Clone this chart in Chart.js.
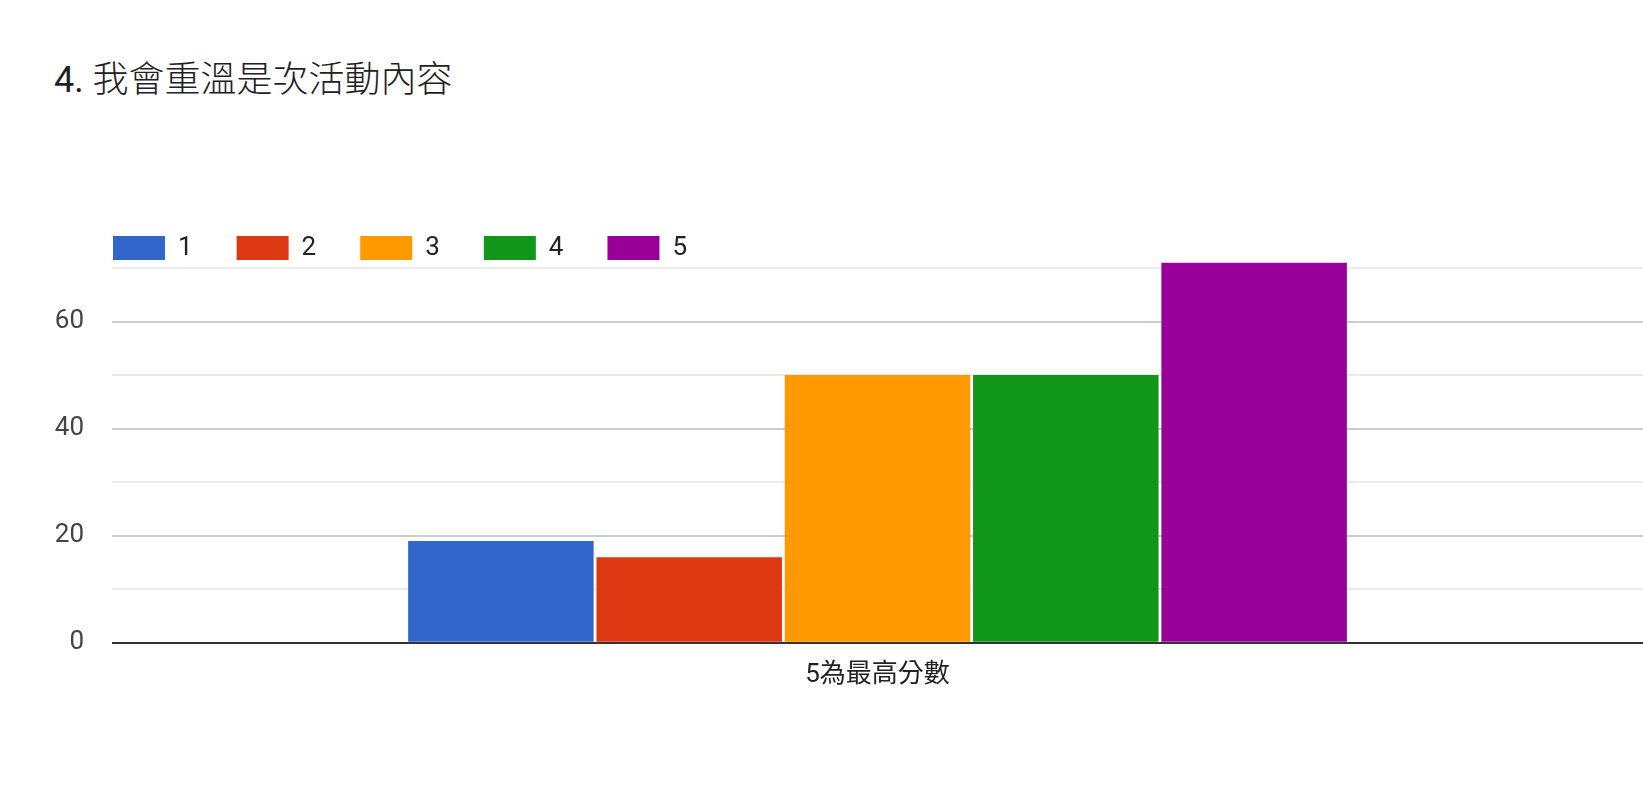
<!DOCTYPE html>
<html>
<head>
<meta charset="utf-8">
<script src="https://cdn.jsdelivr.net/npm/chart.js@4.4.0/dist/chart.umd.min.js"></script>
<style>
    html, body { margin: 0; padding: 0; background: #fff; }
    #wrap { position: relative; width: 1643px; height: 806px; }
    #title {
        position: absolute; left: 54px; top: 57px;
        font: 300 36px Roboto, "Noto Sans CJK TC", sans-serif;
        line-height: 46px; color: #202124; white-space: nowrap;
    }
    #title span { font-weight: 400; }
    #chart { position: absolute; left: 0; top: 0; }
</style>
</head>
<body>
<div id="wrap">
    <div id="title"><span>4.</span> 我會重溫是次活動內容</div>
    <canvas id="chart" width="1643" height="806"></canvas>
</div>
<script>
const categories = ['5為最高分數'];
const seriesLabels = ['1', '2', '3', '4', '5'];
const seriesValues = [[19], [16], [50], [50], [71]];
const seriesColors = ['#3366cc', '#dc3912', '#ff9900', '#109618', '#990099'];
const yTickLabels = [0, 20, 40, 60];

// legend starts a bit left of the plot area, like the original
const legendShift = {
    id: 'legendShift',
    afterLayout(chart) {
        chart.legend.left = chart.chartArea.left - 43;
        chart.legend.top += 3;
    }
};

document.addEventListener('DOMContentLoaded', () => {
    Chart.defaults.font.family = 'Roboto, "Noto Sans CJK TC", sans-serif';

    const ctx = document.getElementById('chart').getContext('2d');

    new Chart(ctx, {
        type: 'bar',
        data: {
            labels: categories,
            datasets: seriesLabels.map((label, i) => ({
                label: label,
                data: seriesValues[i],
                backgroundColor: seriesColors[i],
                borderWidth: 0,
                clip: false
            }))
        },
        options: {
            responsive: false,
            animation: false,
            categoryPercentage: 0.615,
            barPercentage: 0.985,
            layout: {
                padding: { left: 0, right: 0, top: 188, bottom: 98 }
            },
            plugins: {
                legend: {
                    position: 'top',
                    align: 'start',
                    labels: {
                        boxWidth: 52,
                        boxHeight: 24,
                        padding: 44,
                        color: '#222',
                        font: { size: 26 }
                    }
                },
                tooltip: { enabled: false }
            },
            scales: {
                x: {
                    grid: { display: false, drawTicks: false },
                    border: { display: false },
                    ticks: { color: '#222', padding: 17, font: { size: 26 } }
                },
                y: {
                    min: 0,
                    max: 70,
                    afterFit: (scale) => { scale.width = 112; },
                    border: { display: false },
                    grid: {
                        drawTicks: false,
                        lineWidth: 2,
                        color: (c) => {
                            const v = c.tick.value;
                            if (v === 0) return '#333';
                            return v % 20 === 0 ? '#cccccc' : '#ebebeb';
                        }
                    },
                    ticks: {
                        stepSize: 10,
                        padding: 28,
                        color: '#444',
                        font: { size: 26 },
                        callback: (v) => yTickLabels.includes(v) ? v : ''
                    }
                }
            }
        },
        plugins: [legendShift]
    });
});
</script>
</body>
</html>
